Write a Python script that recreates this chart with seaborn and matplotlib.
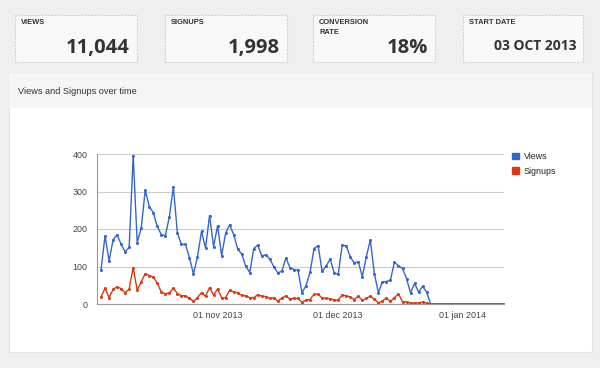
import matplotlib
matplotlib.use("Agg")
import matplotlib.pyplot as plt
import matplotlib.dates as mdates
from matplotlib.patches import Rectangle, Patch
import numpy as np
import pandas as pd
import seaborn as sns

# ---------------- data ----------------
start_date = "2013-10-03"
views = [91, 182, 115, 171, 185, 159, 139, 151, 396, 164,
         202, 304, 260, 244, 207, 185, 182, 232, 312, 189,
         159, 159, 124, 80, 126, 194, 149, 236, 153,
         209, 129, 189, 211, 185, 147, 133, 101, 84, 148,
         157, 128, 131, 120, 99, 83, 88, 123, 97, 92,
         90, 30, 49, 85, 148, 156, 87, 101, 120, 83,
         79, 157, 155, 126, 109, 113, 73, 126, 171, 81,
         30, 59, 60, 64, 112, 102, 95, 68, 30, 55,
         32, 47, 32, 0, 0, 0, 0, 0, 0, 0, 0,
         0, 0, 0, 0, 0, 0, 0, 0, 0, 0, 0]
signups = [19, 42, 17, 39, 46, 41, 30, 40, 97, 37,
           59, 81, 76, 72, 55, 32, 27, 30, 42, 28,
           22, 22, 15, 7, 17, 30, 21, 44, 24,
           40, 17, 17, 37, 32, 30, 23, 22, 17, 17,
           25, 21, 20, 15, 16, 8, 16, 22, 13, 15,
           15, 4, 11, 12, 26, 26, 16, 15, 14, 11,
           11, 24, 22, 19, 12, 21, 10, 15, 21, 13,
           3, 8, 16, 7, 17, 27, 6, 6, 2, 3,
           3, 5, 2, 0, 0, 0, 0, 0, 0, 0, 0,
           0, 0, 0, 0, 0, 0, 0, 0, 0, 0, 0]
series_names = ["Views", "Signups"]
series_colors = ["#3366cc", "#dc3912"]
x_tick_dates = ["2013-11-01", "2013-12-01", "2014-01-01"]
x_tick_labels = ["01 nov 2013", "01 dec 2013", "01 jan 2014"]
y_ticks = [0, 100, 200, 300, 400]

kpi_labels = ["VIEWS", "SIGNUPS", "CONVERSION\nRATE", "START DATE"]
kpi_values = ["11,044", "1,998", "18%", "03 OCT 2013"]
panel_title = "Views and Signups over time"

# ---------------- figure ----------------
W, H = 600, 368
fig = plt.figure(figsize=(W / 100, H / 100), dpi=100)
fig.patch.set_facecolor("#efefef")

def fx(px):
    return px / W

def fy(py):
    return 1 - py / H

def rect(x0, y0, x1, y1, **kw):
    r = Rectangle((fx(x0), fy(y1)), fx(x1) - fx(x0), fy(y0) - fy(y1),
                  transform=fig.transFigure, **kw)
    fig.add_artist(r)
    return r

# KPI cards
cards = [(15, 137), (165, 287), (313, 435), (463, 583)]
for (cx0, cx1), lab, val in zip(cards, kpi_labels, kpi_values):
    rect(cx0, 15, cx1, 62, facecolor="#f8f8f8", edgecolor="#d4d4d4",
         linewidth=0.8, linestyle=(0, (2, 1)), zorder=-2)
    fig.text(fx(cx0 + 6), fy(19.5), lab, ha="left", va="top",
             fontsize=5.4, fontweight="bold", color="#333333",
             family="Liberation Sans", linespacing=1.6)
    small = len(val) > 7
    fig.text(fx(cx1 - 7), fy(53 if not small else 50), val, ha="right",
             va="baseline", fontsize=(10 if small else 14.5), fontweight="bold",
             color="#333333", family="Open Sans")

# main panel
rect(9, 73, 592, 352, facecolor="#ffffff", edgecolor="#e2e2e2",
     linewidth=0.8, zorder=-2)
rect(9.4, 73.4, 591.6, 108, facecolor="#f5f5f5", edgecolor="none", zorder=-1.5)
fig.text(fx(18), fy(91), panel_title, ha="left", va="center",
         fontsize=6.6, color="#333333", family="Liberation Sans")

# ---------------- chart ----------------
dates = pd.date_range(start_date, periods=len(views), freq="D")
df = pd.DataFrame({
    "date": np.concatenate([dates, dates]),
    "value": views + signups,
    "series": [series_names[0]] * len(views) + [series_names[1]] * len(signups),
})

ax = fig.add_axes([fx(97), fy(304), fx(504) - fx(97), fy(154) - fy(304)])
ax.set_facecolor("none")
sns.lineplot(data=df, x="date", y="value", hue="series",
             palette=dict(zip(series_names, series_colors)),
             marker="o", markersize=2.2, markeredgewidth=0,
             linewidth=1.0, ax=ax, legend=False)

x0 = pd.Timestamp(start_date) - pd.Timedelta(days=1)
x1 = dates[-1] + pd.Timedelta(hours=6)
ax.set_xlim(x0, x1)
ax.set_ylim(0, 400)
ax.set_yticks(y_ticks)
ax.set_yticklabels([str(v) for v in y_ticks])
ax.set_xticks([pd.Timestamp(d) for d in x_tick_dates])
ax.set_xticklabels(x_tick_labels)
ax.tick_params(axis="both", length=0, labelsize=6.4, labelcolor="#444444")
ax.tick_params(axis="x", pad=5)
ax.tick_params(axis="y", pad=7)
for lab in ax.get_xticklabels() + ax.get_yticklabels():
    lab.set_family("Liberation Sans")
ax.set_xlabel("")
ax.set_ylabel("")
ax.grid(axis="y", color="#cccccc", linewidth=0.8)
ax.grid(axis="x", visible=False)
ax.set_axisbelow(True)
for s in ["top", "right"]:
    ax.spines[s].set_visible(False)
ax.spines["left"].set_color("#999999")
ax.spines["bottom"].set_color("#999999")
ax.spines["left"].set_linewidth(0.8)
ax.spines["bottom"].set_linewidth(0.8)

handles = [Patch(facecolor=c, edgecolor=c) for c in series_colors]
leg = ax.legend(handles, series_names, loc="upper left",
                bbox_to_anchor=(fx(512), fy(152)), bbox_transform=fig.transFigure,
                frameon=False, handlelength=0.8, handleheight=0.8,
                handletextpad=0.5, labelspacing=0.65, borderpad=0, borderaxespad=0,
                prop={"family": "Liberation Sans", "size": 6.4})
for t in leg.get_texts():
    t.set_color("#222222")

fig.savefig("out.png", dpi=100, facecolor=fig.get_facecolor())
